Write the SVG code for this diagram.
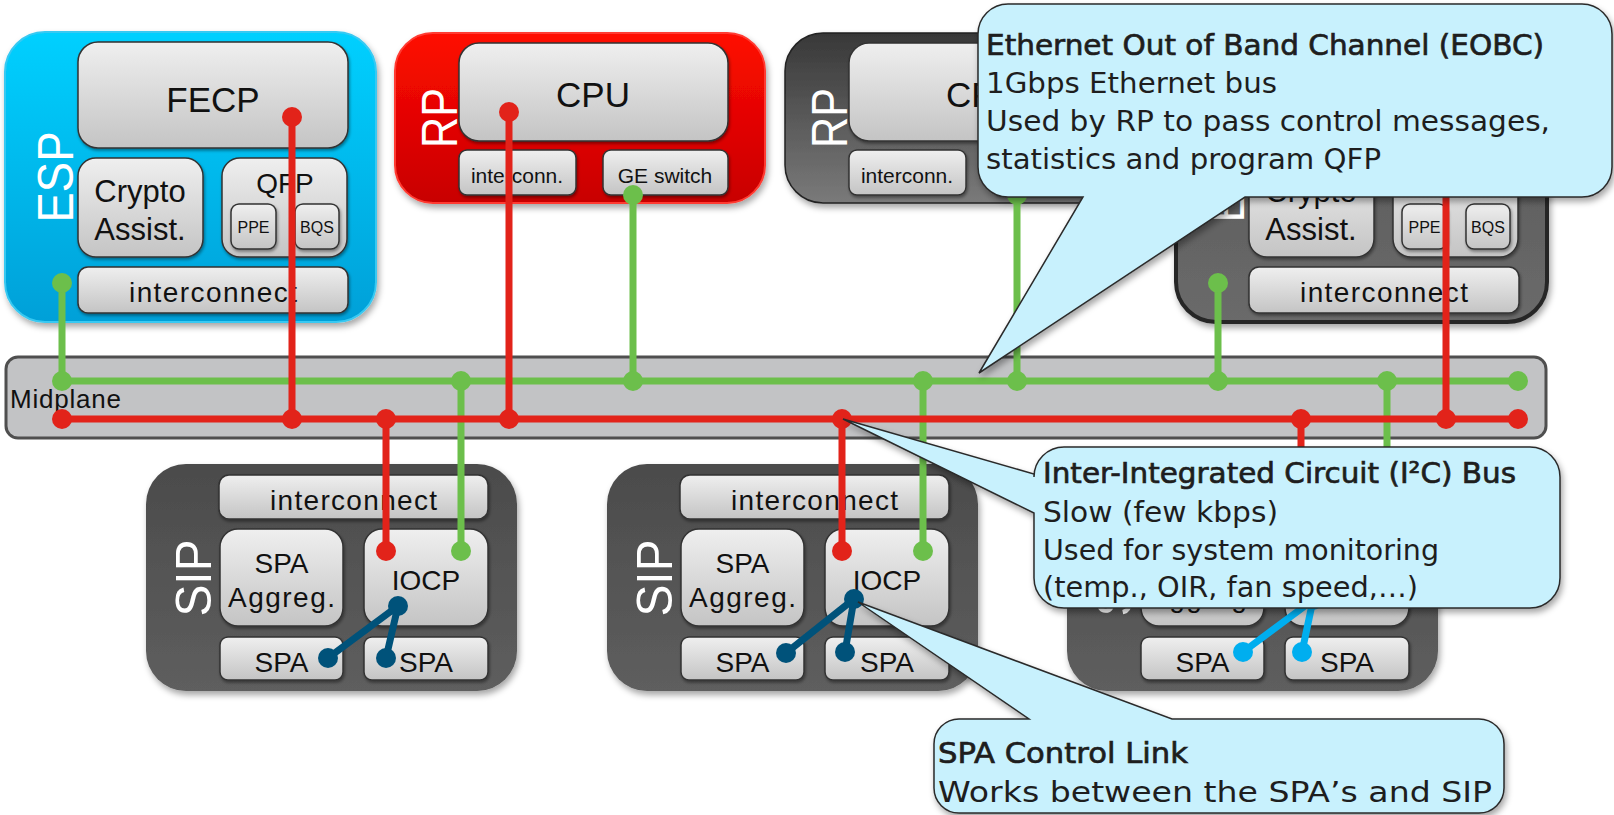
<svg xmlns="http://www.w3.org/2000/svg" width="1614" height="815" viewBox="0 0 1614 815">
<defs>
  <linearGradient id="gBox" x1="0" y1="0" x2="0" y2="1"><stop offset="0" stop-color="#efefef"/><stop offset="1" stop-color="#c4c4c4"/></linearGradient>
  <linearGradient id="gEsp" x1="0" y1="0" x2="0" y2="1"><stop offset="0" stop-color="#00d0ff"/><stop offset="1" stop-color="#00a0d8"/></linearGradient>
  <linearGradient id="gRp" x1="0" y1="0" x2="0" y2="1"><stop offset="0" stop-color="#ff0a00"/><stop offset="1" stop-color="#c80000"/></linearGradient>
  <linearGradient id="gDrp" x1="0" y1="0" x2="0" y2="1"><stop offset="0" stop-color="#383838"/><stop offset="1" stop-color="#7a7a7a"/></linearGradient>
  <linearGradient id="gSip" x1="0" y1="0" x2="0" y2="1"><stop offset="0" stop-color="#4b4b4b"/><stop offset="1" stop-color="#5e5e5e"/></linearGradient>
  <linearGradient id="gDesp" x1="0" y1="0" x2="0" y2="1"><stop offset="0" stop-color="#555"/><stop offset="1" stop-color="#6a6a6a"/></linearGradient>
  <filter id="sh" x="-10%" y="-10%" width="125%" height="135%"><feDropShadow dx="2" dy="4" stdDeviation="3" flood-color="#000" flood-opacity="0.35"/></filter>
  <filter id="shs" x="-10%" y="-10%" width="125%" height="140%"><feDropShadow dx="1" dy="2" stdDeviation="1.5" flood-color="#000" flood-opacity="0.4"/></filter>
</defs>
<style>
  .ibox{fill:url(#gBox);stroke:#333;stroke-width:1.5;filter:url(#shs)}
  .lbl{font-family:"Liberation Sans",Arial,sans-serif;fill:#111;text-anchor:middle}
  .side{font-family:"Liberation Sans",Arial,sans-serif;fill:#fff;font-size:50px;text-anchor:middle}
  .g{stroke:#6cbf4b;stroke-width:7;fill:none}
  .r{stroke:#e2231a;stroke-width:7;fill:none}
  .b{stroke:#00527a;stroke-width:7;fill:none;stroke-linecap:round}
  .lb{stroke:#00aeef;stroke-width:7;fill:none;stroke-linecap:round}
  .gd{fill:#6cbf4b}
  .rd{fill:#e2231a}
  .bd{fill:#00527a}
  .lbd{fill:#00aeef}
  .call{fill:#c8f1fd;stroke:#2a2a2a;stroke-width:1.5;filter:url(#sh)}
  .ct{font-family:"DejaVu Sans","Liberation Sans",sans-serif;font-size:28px;fill:#1e1e1e}
  .ch{font-family:"DejaVu Sans","Liberation Sans",sans-serif;font-size:29px;fill:#1e1e1e;stroke:#1e1e1e;stroke-width:0.7}
</style>

<!-- ESP (blue) -->
<g id="esp">
  <rect x="5" y="32" width="371" height="290" rx="40" fill="url(#gEsp)" stroke="#38c9f2" stroke-width="2" filter="url(#sh)"/>
  <text class="side" transform="translate(55,177) rotate(-90)" y="18" textLength="91" lengthAdjust="spacingAndGlyphs">ESP</text>
  <rect class="ibox" x="78" y="42" width="270" height="106" rx="20"/>
  <text class="lbl" x="213" y="112" font-size="35">FECP</text>
  <rect class="ibox" x="78" y="158" width="125" height="99" rx="18"/>
  <text class="lbl" x="140" y="202" font-size="31">Crypto</text>
  <text class="lbl" x="140" y="240" font-size="31">Assist.</text>
  <rect class="ibox" x="222" y="158" width="125" height="99" rx="18"/>
  <text class="lbl" x="285" y="193" font-size="28">QFP</text>
  <rect class="ibox" x="231" y="204" width="45" height="45" rx="8"/>
  <text class="lbl" x="253.5" y="233" font-size="16">PPE</text>
  <rect class="ibox" x="295" y="204" width="44" height="45" rx="8"/>
  <text class="lbl" x="317" y="233" font-size="16">BQS</text>
  <rect class="ibox" x="78" y="267" width="270" height="46" rx="10"/>
  <text class="lbl" x="213" y="302" font-size="28" textLength="168">interconnect</text>
</g>

<!-- RP (red) -->
<g id="rp">
  <rect x="395" y="33" width="370" height="170" rx="38" fill="url(#gRp)" stroke="#ff3a30" stroke-width="2" filter="url(#sh)"/>
  <text class="side" transform="translate(439,118) rotate(-90)" y="18" textLength="60" lengthAdjust="spacingAndGlyphs">RP</text>
  <rect class="ibox" x="459" y="43" width="269" height="98" rx="20"/>
  <text class="lbl" x="593" y="107" font-size="35">CPU</text>
  <rect class="ibox" x="459" y="150" width="117" height="45" rx="8"/>
  <text class="lbl" x="517" y="183" font-size="21">interconn.</text>
  <rect class="ibox" x="603" y="150" width="125" height="45" rx="8"/>
  <text class="lbl" x="665" y="183" font-size="21">GE switch</text>
</g>

<!-- RP (standby, dark) - partly hidden by the EOBC callout -->
<g id="rp-standby" transform="translate(390,0)">
  <rect x="395" y="33" width="370" height="170" rx="38" fill="url(#gDrp)" stroke="#222" stroke-width="1.5" filter="url(#sh)"/>
  <text class="side" transform="translate(439,118) rotate(-90)" y="18" textLength="60" lengthAdjust="spacingAndGlyphs">RP</text>
  <rect class="ibox" x="459" y="43" width="269" height="98" rx="20"/>
  <text class="lbl" x="593" y="107" font-size="35">CPU</text>
  <rect class="ibox" x="459" y="150" width="117" height="45" rx="8"/>
  <text class="lbl" x="517" y="183" font-size="21">interconn.</text>
  <rect class="ibox" x="603" y="150" width="125" height="45" rx="8"/>
</g>

<!-- ESP (standby, dark) - partly hidden by the EOBC callout -->
<g id="esp-standby" transform="translate(1171,0)">
  <rect x="5" y="32" width="371" height="290" rx="40" fill="url(#gDesp)" stroke="#262626" stroke-width="4" filter="url(#sh)"/>
  <text class="side" transform="translate(55,177) rotate(-90)" y="18" textLength="91" lengthAdjust="spacingAndGlyphs">ESP</text>
  <rect class="ibox" x="78" y="42" width="270" height="106" rx="20"/>
  <rect class="ibox" x="78" y="158" width="125" height="99" rx="18"/>
  <text class="lbl" x="140" y="202" font-size="31">Crypto</text>
  <text class="lbl" x="140" y="240" font-size="31">Assist.</text>
  <rect class="ibox" x="222" y="158" width="125" height="99" rx="18"/>
  <rect class="ibox" x="231" y="204" width="45" height="45" rx="8"/>
  <text class="lbl" x="253.5" y="233" font-size="16">PPE</text>
  <rect class="ibox" x="295" y="204" width="44" height="45" rx="8"/>
  <text class="lbl" x="317" y="233" font-size="16">BQS</text>
  <rect class="ibox" x="78" y="267" width="270" height="46" rx="10"/>
  <text class="lbl" x="213" y="302" font-size="28" textLength="168">interconnect</text>
</g>

<!-- SIPs -->
<g id="sip1">
  <rect x="146" y="464" width="371" height="227" rx="40" fill="url(#gSip)" filter="url(#sh)"/>
  <text class="side" transform="translate(193,578) rotate(-90)" y="18" textLength="77" lengthAdjust="spacingAndGlyphs">SIP</text>
  <rect class="ibox" x="219" y="475" width="269" height="44" rx="10"/>
  <text class="lbl" x="353.5" y="510" font-size="28" textLength="167">interconnect</text>
  <rect class="ibox" x="220" y="529" width="123" height="97" rx="18"/>
  <text class="lbl" x="281.5" y="573" font-size="28">SPA</text>
  <text class="lbl" x="281.5" y="607" font-size="28" textLength="107">Aggreg.</text>
  <rect class="ibox" x="364" y="529" width="124" height="97" rx="18"/>
  <text class="lbl" x="426" y="590" font-size="28">IOCP</text>
  <rect class="ibox" x="220" y="637" width="123" height="43" rx="8"/>
  <text class="lbl" x="281.5" y="672" font-size="28">SPA</text>
  <rect class="ibox" x="364" y="637" width="124" height="43" rx="8"/>
  <text class="lbl" x="426" y="672" font-size="28">SPA</text>
</g>
<g id="sip2" transform="translate(461,0)">
  <rect x="146" y="464" width="371" height="227" rx="40" fill="url(#gSip)" filter="url(#sh)"/>
  <text class="side" transform="translate(193,578) rotate(-90)" y="18" textLength="77" lengthAdjust="spacingAndGlyphs">SIP</text>
  <rect class="ibox" x="219" y="475" width="269" height="44" rx="10"/>
  <text class="lbl" x="353.5" y="510" font-size="28" textLength="167">interconnect</text>
  <rect class="ibox" x="220" y="529" width="123" height="97" rx="18"/>
  <text class="lbl" x="281.5" y="573" font-size="28">SPA</text>
  <text class="lbl" x="281.5" y="607" font-size="28" textLength="107">Aggreg.</text>
  <rect class="ibox" x="364" y="529" width="124" height="97" rx="18"/>
  <text class="lbl" x="426" y="590" font-size="28">IOCP</text>
  <rect class="ibox" x="220" y="637" width="123" height="43" rx="8"/>
  <text class="lbl" x="281.5" y="672" font-size="28">SPA</text>
  <rect class="ibox" x="364" y="637" width="124" height="43" rx="8"/>
  <text class="lbl" x="426" y="672" font-size="28">SPA</text>
</g>
<g id="sip3" transform="translate(921,0)">
  <rect x="146" y="464" width="371" height="227" rx="40" fill="url(#gSip)" filter="url(#sh)"/>
  <text class="side" transform="translate(193,578) rotate(-90)" y="18" textLength="77" lengthAdjust="spacingAndGlyphs">SIP</text>
  <rect class="ibox" x="219" y="475" width="269" height="44" rx="10"/>
  <rect class="ibox" x="220" y="529" width="123" height="97" rx="18"/>
  <text class="lbl" x="281.5" y="607" font-size="28" textLength="107">Aggreg.</text>
  <rect class="ibox" x="364" y="529" width="124" height="97" rx="18"/>
  <rect class="ibox" x="220" y="637" width="123" height="43" rx="8"/>
  <text class="lbl" x="281.5" y="672" font-size="28">SPA</text>
  <rect class="ibox" x="364" y="637" width="124" height="43" rx="8"/>
  <text class="lbl" x="426" y="672" font-size="28">SPA</text>
</g>

<!-- Midplane -->
<g id="midplane">
  <rect x="6" y="357" width="1540" height="81" rx="12" fill="#c2c3c5" stroke="#4f4f4f" stroke-width="3"/>
  <text x="10" y="408" font-family="'Liberation Sans',Arial,sans-serif" font-size="26" fill="#111" textLength="111">Midplane</text>
</g>

<!-- Connectors -->
<g id="connectors">
  <path class="g" d="M62,283V381M461,381V551M633,195V381M923,381V551M1017,195V381M1218,283V381M1387,381V551M62,381H1518"/>
  <path class="r" d="M292,117V419M386,419V551M509,112V419M842,419V551M1301,419V551M1446,117V419M62,419H1518"/>
  <g class="gd">
    <circle cx="62" cy="283" r="10"/><circle cx="62" cy="381" r="10"/>
    <circle cx="461" cy="381" r="10"/><circle cx="461" cy="551" r="10"/>
    <circle cx="633" cy="195" r="10"/><circle cx="633" cy="381" r="10"/>
    <circle cx="923" cy="381" r="10"/><circle cx="923" cy="551" r="10"/>
    <circle cx="1017" cy="195" r="10"/><circle cx="1017" cy="381" r="10"/>
    <circle cx="1218" cy="283" r="10"/><circle cx="1218" cy="381" r="10"/>
    <circle cx="1387" cy="381" r="10"/><circle cx="1387" cy="551" r="10"/>
    <circle cx="1518" cy="381" r="10"/>
  </g>
  <g class="rd">
    <circle cx="62" cy="419" r="10"/>
    <circle cx="292" cy="117" r="10"/><circle cx="292" cy="419" r="10"/>
    <circle cx="386" cy="419" r="10"/><circle cx="386" cy="551" r="10"/>
    <circle cx="509" cy="112" r="10"/><circle cx="509" cy="419" r="10"/>
    <circle cx="842" cy="419" r="10"/><circle cx="842" cy="551" r="10"/>
    <circle cx="1301" cy="419" r="10"/><circle cx="1301" cy="551" r="10"/>
    <circle cx="1446" cy="117" r="10"/><circle cx="1446" cy="419" r="10"/>
    <circle cx="1518" cy="419" r="10"/>
  </g>
  <path class="b" d="M328,658L398,606L386,658M786,653L854,599L845,652"/>
  <g class="bd">
    <circle cx="328" cy="658" r="10"/><circle cx="398" cy="606" r="10"/><circle cx="386" cy="658" r="10"/>
    <circle cx="786" cy="653" r="10"/><circle cx="854" cy="599" r="10"/><circle cx="845" cy="652" r="10"/>
  </g>
  <path class="lb" d="M1243,652L1313,600L1302,652"/>
  <g class="lbd">
    <circle cx="1243" cy="652" r="10"/><circle cx="1313" cy="600" r="10"/><circle cx="1302" cy="652" r="10"/>
  </g>
</g>

<!-- Callouts -->
<g id="callout-eobc">
  <path class="call" d="M1008,4H1582A30,30 0 0 1 1612,34V167A30,30 0 0 1 1582,197H1245L979,373L1083,197H1008A30,30 0 0 1 978,167V34A30,30 0 0 1 1008,4Z"/>
  <text class="ch" x="986" y="55" textLength="558" lengthAdjust="spacingAndGlyphs">Ethernet Out of Band Channel (EOBC)</text>
  <text class="ct" x="986" y="93" textLength="291" lengthAdjust="spacingAndGlyphs">1Gbps Ethernet bus</text>
  <text class="ct" x="986" y="131" textLength="564" lengthAdjust="spacingAndGlyphs">Used by RP to pass control messages,</text>
  <text class="ct" x="986" y="169" textLength="395" lengthAdjust="spacingAndGlyphs">statistics and program QFP</text>
</g>
<g id="callout-i2c">
  <path class="call" d="M1064,447H1530A30,30 0 0 1 1560,477V578A30,30 0 0 1 1530,608H1064A30,30 0 0 1 1034,578V513L843,419L1034,474V477A30,30 0 0 1 1064,447Z"/>
  <text class="ch" x="1043" y="483" textLength="473" lengthAdjust="spacingAndGlyphs">Inter-Integrated Circuit (I²C) Bus</text>
  <text class="ct" x="1043" y="522" textLength="235" lengthAdjust="spacingAndGlyphs">Slow (few kbps)</text>
  <text class="ct" x="1043" y="560" textLength="396" lengthAdjust="spacingAndGlyphs">Used for system monitoring</text>
  <text class="ct" x="1043" y="597" textLength="375" lengthAdjust="spacingAndGlyphs">(temp., OIR, fan speed,…)</text>
</g>
<g id="callout-spa">
  <path class="call" d="M959,719H1029L858,602L1172,719H1479A25,25 0 0 1 1504,744V788A25,25 0 0 1 1479,813H959A25,25 0 0 1 934,788V744A25,25 0 0 1 959,719Z"/>
  <text class="ch" x="938" y="763" textLength="250" lengthAdjust="spacingAndGlyphs">SPA Control Link</text>
  <text class="ct" x="938" y="802" font-size="30" textLength="554" lengthAdjust="spacingAndGlyphs">Works between the SPA’s and SIP</text>
</g>
</svg>
